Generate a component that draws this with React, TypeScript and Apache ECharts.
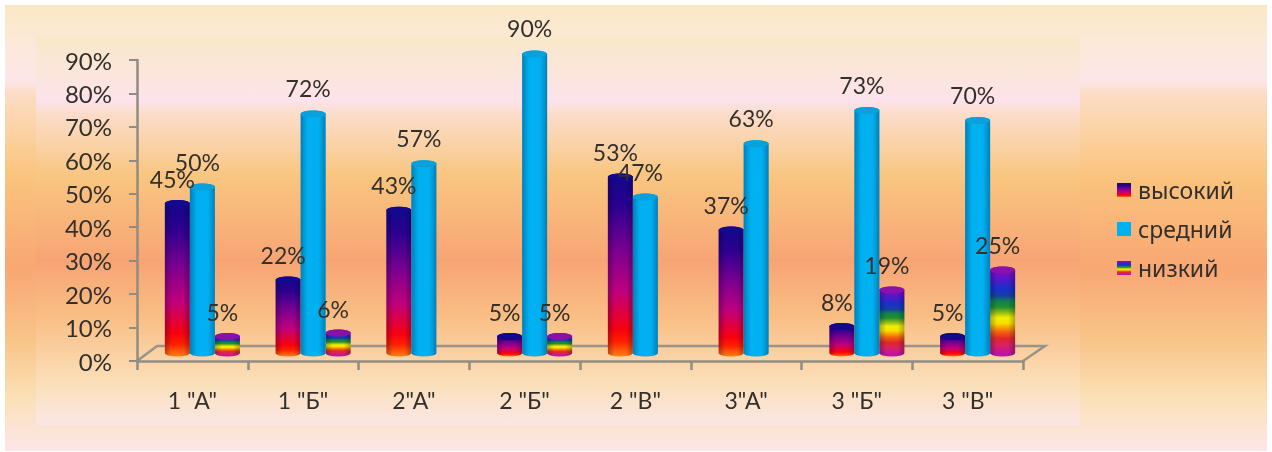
import React, { useEffect, useRef } from "react";
import * as echarts from "echarts";

const categories = ['1 "А"', '1 "Б"', '2"А"', '2 "Б"', '2 "В"', '3"А"', '3 "Б"', '3 "В"'];
const seriesNames = ["высокий", "средний", "низкий"];
const highValues = [45, 22, 43, 5, 53, 37, 8, 5];
const midValues = [50, 72, 57, 90, 47, 63, 73, 70];
const lowValues = [5, 6, null, 5, null, null, 19, 25];

const FONT = "Lato, 'Noto Sans', sans-serif";
const TEXT = "#33302c";
const DEPTH_X = 10;
const DEPTH_Y = 8;
const BAR_W = 25;
const RY = 3.5;
const HEIGHT_SCALE = 0.993;

const grad = (x2: number, y2: number, stops: [number, string][]) =>
  new echarts.graphic.LinearGradient(0, 0, x2, y2, stops.map(([offset, color]) => ({ offset, color })));

const highStops: [number, string][] = [
  [0, "#10088a"], [0.18, "#2c0090"], [0.42, "#7a0090"], [0.65, "#c0007c"], [0.85, "#f80010"], [0.92, "#ff2000"], [1, "#ff8010"],
];
const midStops: [number, string][] = [[0, "#00b0f0"], [1, "#00b0f0"]];
const lowStops: [number, string][] = [
  [0, "#8a10a8"], [0.1, "#6a10c8"], [0.25, "#1830c8"], [0.33, "#1840a0"], [0.38, "#108050"], [0.45, "#209030"],
  [0.52, "#a0c010"], [0.57, "#f0f000"], [0.63, "#f8e000"], [0.68, "#f8a000"], [0.73, "#f06010"], [0.8, "#e02828"],
  [0.88, "#d82068"], [1, "#b810b0"],
];
const seriesStops = [highStops, midStops, lowStops];
const topColors = ["#14088c", "#0aa0dc", "#8a10a8"];

const shade = () =>
  grad(1, 0, [[0, "rgba(0,0,40,0.28)"], [0.28, "rgba(0,0,40,0)"], [0.72, "rgba(0,0,40,0)"], [1, "rgba(0,0,40,0.28)"]]);

const cylinder = (seriesIdx: number) => (_: any, api: any) => {
  const value = api.value(1);
  if (value === null || value === undefined || Number.isNaN(value)) return null;
  const top = api.coord([api.value(0), value]);
  const base = api.coord([api.value(0), 0]);
  const cx = base[0] + DEPTH_X + (seriesIdx - 1) * BAR_W;
  const rx = BAR_W / 2;
  const x0 = cx - rx;
  const x1 = cx + rx;
  const yBase = base[1] - DEPTH_Y;
  const yTop = yBase - (base[1] - top[1]) * HEIGHT_SCALE;
  const d = `M${x0} ${yTop}A${rx} ${RY} 0 0 1 ${x1} ${yTop}L${x1} ${yBase}A${rx} ${RY} 0 0 1 ${x0} ${yBase}Z`;
  const shape = { pathData: d, x: x0, y: yTop - RY, width: BAR_W, height: yBase - yTop + 2 * RY, layout: "cover" };
  return {
    type: "group",
    children: [
      { type: "path", shape, style: { fill: grad(0, 1, seriesStops[seriesIdx]) } },
      { type: "path", shape, style: { fill: shade() } },
      { type: "ellipse", shape: { cx, cy: yTop, rx, ry: RY }, style: { fill: topColors[seriesIdx] } },
    ],
  };
};

const labelItem = (seriesIdx: number) => (_: any, api: any) => {
  const value = api.value(1);
  if (value === null || value === undefined || Number.isNaN(value)) return null;
  const top = api.coord([api.value(0), value]);
  const base = api.coord([api.value(0), 0]);
  return {
    type: "text",
    style: {
      text: `${value}%`,
      x: base[0] + DEPTH_X + (seriesIdx - 1) * BAR_W - 5,
      y: top[1] - DEPTH_Y - 24,
      align: "center",
      verticalAlign: "middle",
      fontSize: 23,
      fontFamily: FONT,
      fill: TEXT,
    },
  };
};

const toData = (values: (number | null)[]) => values.map((v, i) => [i, v]);

const outerStops: [number, string][] = [
  [0, "#fae8c4"], [0.08, "#fce9d8"], [0.17, "#fde6ea"], [0.2, "#fcdcc4"], [0.28, "#fbd3a4"], [0.38, "#fac47e"],
  [0.59, "#f8a773"], [0.75, "#f9c488"], [0.88, "#fbe0b6"], [1, "#fde6ea"],
];
const innerStops: [number, string][] = [
  [0, "#f9e8c8"], [0.09, "#fbe6da"], [0.167, "#fde3ec"], [0.205, "#fbdcc8"], [0.295, "#fad0a0"], [0.36, "#f9c680"],
  [0.58, "#f7a474"], [0.72, "#f9be84"], [0.9, "#fbe0bc"], [1, "#fbe6e6"],
];

export default function App() {
  const ref = useRef<HTMLDivElement>(null);
  useEffect(() => {
    const chart = echarts.init(ref.current!, null, { renderer: "svg" });
    const allValues = [highValues, midValues, lowValues];
    chart.setOption({
      animation: false,
      backgroundColor: "#ffffff",
      grid: { left: 137, top: 60, width: 886, height: 301, containLabel: false },
      graphic: [
        { type: "rect", z: -10, silent: true, shape: { x: 5, y: 5, width: 1262, height: 446 }, style: { fill: grad(0, 1, outerStops) } },
        { type: "rect", z: -9, silent: true, shape: { x: 36, y: 35, width: 1044, height: 390 }, style: { fill: grad(0, 1, innerStops) } },
        {
          type: "polyline", z: -1, silent: true,
          shape: { points: [[137, 361], [157, 346], [1045, 346], [1023, 361]] },
          style: { stroke: "#9a9488", lineWidth: 2.5, fill: "none" },
        },
      ],
      legend: {
        orient: "vertical",
        left: 1112,
        top: 173,
        itemWidth: 14,
        itemHeight: 14,
        itemGap: 15,
        icon: "rect",
        textStyle: { fontSize: 23, fontFamily: "'Noto Sans', sans-serif", color: TEXT, padding: [0, 0, 0, 2], lineHeight: 24 },
        data: seriesNames.map((name, i) => ({ name, itemStyle: { color: grad(0, 1, seriesStops[i]) } })),
      },
      xAxis: {
        type: "category",
        data: categories,
        axisLine: { lineStyle: { color: "#918c82", width: 2.5 } },
        axisTick: { show: true, alignWithLabel: false, length: 9, lineStyle: { color: "#918c82", width: 2.5 } },
        axisLabel: { fontSize: 23, fontFamily: FONT, color: TEXT, margin: 27, interval: 0 },
        splitLine: { show: false },
      },
      yAxis: {
        type: "value",
        min: 0,
        max: 90,
        interval: 10,
        axisLine: { show: true, lineStyle: { color: "#918c82", width: 2.5 } },
        axisTick: { show: true, length: 8, lineStyle: { color: "#918c82", width: 2 } },
        axisLabel: { fontSize: 24, fontFamily: FONT, color: TEXT, margin: 25, formatter: "{value}%" },
        splitLine: { show: false },
      },
      series: [
        ...seriesNames.map((name, i) => ({
          type: "custom",
          name,
          z: i === 1 ? 4 : 3,
          itemStyle: { color: seriesStops[i][0][1] },
          encode: { x: 0, y: 1 },
          renderItem: cylinder(i),
          data: toData(allValues[i]),
        })),
        ...seriesNames.map((name, i) => ({
          type: "custom",
          name: `${name} %`,
          z: 6,
          silent: true,
          encode: { x: 0, y: 1 },
          renderItem: labelItem(i),
          data: toData(allValues[i]),
        })),
      ],
    });
    return () => chart.dispose();
  }, []);
  return <div ref={ref} style={{ position: "absolute", left: 0, top: 0, width: 1272, height: 452, filter: "blur(0.5px)" }} />;
}
